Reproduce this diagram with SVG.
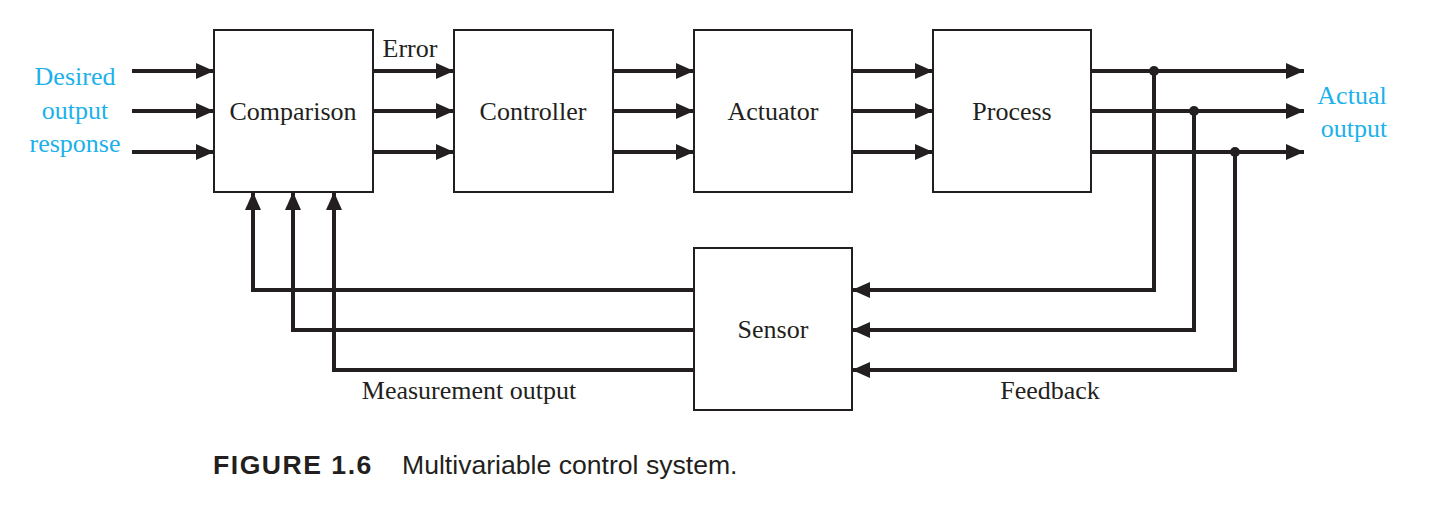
<svg xmlns="http://www.w3.org/2000/svg" width="1430" height="509" viewBox="0 0 1430 509">
<style>
.box{fill:#fff;stroke:#231f20;stroke-width:2}
.lbl{font-family:"Liberation Serif","Times New Roman",serif;font-size:26px;fill:#231f20;text-anchor:middle}
.blue{font-family:"Liberation Serif","Times New Roman",serif;font-size:26px;fill:#1cb1ea;text-anchor:middle}
.wire{fill:none;stroke:#231f20;stroke-width:4}
.arr{fill:none;stroke:#231f20;stroke-width:4;marker-end:url(#ah)}
.cap{font-family:"Liberation Sans",Arial,sans-serif;font-size:26.6px;fill:#231f20}
</style>
<defs>
<marker id="ah" markerUnits="userSpaceOnUse" markerWidth="19" markerHeight="17" refX="18" refY="8" orient="auto">
<path d="M0,0 L18,8 L0,16 z" fill="#231f20"/>
</marker>
</defs>
<rect width="1430" height="509" fill="#fff"/>
<g id="connectors">
<line class="arr" x1="132" y1="71" x2="214" y2="71"/>
<line class="arr" x1="132" y1="111" x2="214" y2="111"/>
<line class="arr" x1="132" y1="152" x2="214" y2="152"/>
<line class="arr" x1="373" y1="71" x2="454" y2="71"/>
<line class="arr" x1="373" y1="111" x2="454" y2="111"/>
<line class="arr" x1="373" y1="152" x2="454" y2="152"/>
<line class="arr" x1="613" y1="71" x2="694" y2="71"/>
<line class="arr" x1="613" y1="111" x2="694" y2="111"/>
<line class="arr" x1="613" y1="152" x2="694" y2="152"/>
<line class="arr" x1="852" y1="71" x2="933" y2="71"/>
<line class="arr" x1="852" y1="111" x2="933" y2="111"/>
<line class="arr" x1="852" y1="152" x2="933" y2="152"/>
<line class="arr" x1="1091" y1="71" x2="1304" y2="71"/>
<line class="arr" x1="1091" y1="111" x2="1304" y2="111"/>
<line class="arr" x1="1091" y1="152" x2="1304" y2="152"/>
<polyline class="arr" points="1154,71 1154,290 852,290"/>
<polyline class="arr" points="1194,111 1194,330 852,330"/>
<polyline class="arr" points="1235,152 1235,370 852,370"/>
<circle cx="1154" cy="71" r="5" fill="#231f20"/>
<circle cx="1194" cy="111" r="5" fill="#231f20"/>
<circle cx="1235" cy="152" r="5" fill="#231f20"/>
<polyline class="arr" points="694,290 253,290 253,192"/>
<polyline class="arr" points="694,330 293,330 293,192"/>
<polyline class="arr" points="694,370 334,370 334,192"/>
<text class="lbl" x="410" y="57">Error</text>
<text class="lbl" x="469" y="399">Measurement output</text>
<text class="lbl" x="1050" y="399">Feedback</text>
</g>
<g id="comparison"><rect class="box" x="214" y="30" width="159" height="162"/><text class="lbl" x="293" y="120">Comparison</text></g>
<g id="controller"><rect class="box" x="454" y="30" width="159" height="162"/><text class="lbl" x="533" y="120">Controller</text></g>
<g id="actuator"><rect class="box" x="694" y="30" width="158" height="162"/><text class="lbl" x="773" y="120">Actuator</text></g>
<g id="process"><rect class="box" x="933" y="30" width="158" height="162"/><text class="lbl" x="1012" y="120">Process</text></g>
<g id="sensor"><rect class="box" x="694" y="248" width="158" height="162"/><text class="lbl" x="773" y="338">Sensor</text></g>
<g id="desired"><text class="blue" x="75" y="85">Desired</text><text class="blue" x="75" y="119">output</text><text class="blue" x="75" y="152">response</text></g>
<g id="actual"><text class="blue" x="1352" y="104">Actual</text><text class="blue" x="1354" y="137">output</text></g>
<g id="caption"><text class="cap" x="213" y="474" font-weight="bold" font-size="29px" letter-spacing="1.5">FIGURE 1.6</text><text class="cap" x="402" y="474">Multivariable control system.</text></g>
</svg>
